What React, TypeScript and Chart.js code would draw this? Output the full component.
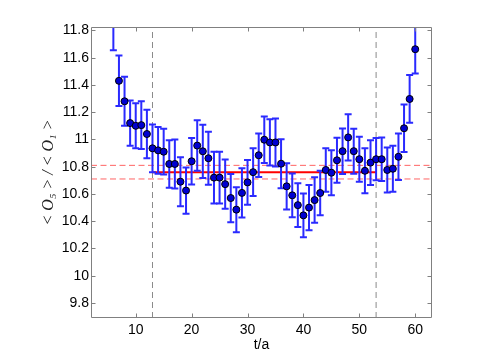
import React, { useEffect, useRef } from "react";
import { Chart, registerables } from "chart.js";

Chart.register(...registerables);

// time slices t/a
const T = [6, 7, 8, 9, 10, 11, 12, 13, 14, 15, 16, 17, 18, 19, 20, 21, 22, 23, 24, 25, 26, 27, 28, 29, 30, 31, 32, 33,
  34, 35, 36, 37, 38, 39, 40, 41, 42, 43, 44, 45, 46, 47, 48, 49, 50, 51, 52, 53, 54, 55, 56, 57, 58, 59, 60];
// <O5>/<O1>
const RATIO = [11.88, 11.43, 11.28, 11.12, 11.10, 11.105, 11.04, 10.935, 10.92, 10.91, 10.82, 10.82, 10.69, 10.625,
  10.84, 10.955, 10.913, 10.862, 10.72, 10.72, 10.672, 10.57, 10.485, 10.608, 10.685, 10.76, 10.884, 10.998,
  10.978, 10.978, 10.822, 10.656, 10.59, 10.518, 10.443, 10.50, 10.555, 10.607, 10.776, 10.756, 10.847, 10.914,
  11.015, 10.914, 10.855, 10.77, 10.83, 10.855, 10.855, 10.776, 10.785, 10.873, 11.082, 11.297, 11.662];
const ERR = [0.225, 0.185, 0.18, 0.166, 0.165, 0.176, 0.178, 0.175, 0.172, 0.168, 0.175, 0.18, 0.18, 0.17,
  0.17, 0.185, 0.195, 0.195, 0.19, 0.19, 0.18, 0.177, 0.165, 0.18, 0.165, 0.175, 0.16, 0.17,
  0.17, 0.176, 0.18, 0.17, 0.16, 0.16, 0.16, 0.166, 0.167, 0.163, 0.16, 0.165, 0.165, 0.167,
  0.17, 0.165, 0.165, 0.165, 0.165, 0.155, 0.16, 0.165, 0.168, 0.17, 0.175, 0.175, 0.178];

const FIT_WINDOW = [13, 53];
const FIT_VALUE = [10.76];
const FIT_BAND = [10.71, 10.81];

const X_RANGE = [2, 63];
const Y_RANGE = [9.69, 11.825];
const X_TICKS = [10, 20, 30, 40, 50, 60];
const Y_TICKS = [9.8, 10, 10.2, 10.4, 10.6, 10.8, 11, 11.2, 11.4, 11.6, 11.8];

const AXIS_FONT = "'Liberation Sans', Arial, Helvetica, sans-serif";

const errorBarPlugin = {
  id: "errorBars",
  beforeDatasetDraw(chart: any, args: any) {
    if (args.index !== 0) return;
    const { ctx, chartArea, scales } = chart;
    const x = scales.x;
    const y = scales.y;
    ctx.save();
    ctx.beginPath();
    ctx.rect(chartArea.left, chartArea.top, chartArea.right - chartArea.left, chartArea.bottom - chartArea.top);
    ctx.clip();
    ctx.strokeStyle = "#2a2aff";
    ctx.lineWidth = 2;
    const cap = 3.5;
    T.forEach((t, i) => {
      const px = x.getPixelForValue(t);
      const lo = y.getPixelForValue(RATIO[i] - ERR[i]);
      const hi = y.getPixelForValue(RATIO[i] + ERR[i]);
      ctx.beginPath();
      ctx.moveTo(px, lo);
      ctx.lineTo(px, hi);
      ctx.moveTo(px - cap, lo);
      ctx.lineTo(px + cap, lo);
      ctx.moveTo(px - cap, hi);
      ctx.lineTo(px + cap, hi);
      ctx.stroke();
    });
    ctx.restore();
  },
};

const framePlugin = {
  id: "frame",
  afterDatasetsDraw(chart: any) {
    const { ctx, chartArea, scales } = chart;
    const { left, right, top, bottom } = chartArea;
    const L = Math.round(left) + 0.5;
    const R = Math.round(right) - 0.5;
    const Tp = Math.round(top) + 0.5;
    const B = Math.round(bottom) - 0.5;
    ctx.save();
    ctx.strokeStyle = "#808080";
    ctx.lineWidth = 1;
    ctx.beginPath();
    ctx.rect(L, Tp, R - L, B - Tp);
    ctx.stroke();
    const tl = 4;
    ctx.beginPath();
    scales.x.ticks.forEach((tk: any) => {
      const px = Math.round(scales.x.getPixelForValue(tk.value)) + 0.5;
      ctx.moveTo(px, B);
      ctx.lineTo(px, B - tl);
      ctx.moveTo(px, Tp);
      ctx.lineTo(px, Tp + tl);
    });
    scales.y.ticks.forEach((tk: any) => {
      const py = Math.round(scales.y.getPixelForValue(tk.value)) + 0.5;
      ctx.moveTo(L, py);
      ctx.lineTo(L + tl, py);
      ctx.moveTo(R, py);
      ctx.lineTo(R - tl, py);
    });
    ctx.stroke();
    ctx.restore();
  },
};

export default function App() {
  const canvasRef = useRef<HTMLCanvasElement | null>(null);

  useEffect(() => {
    const canvas = canvasRef.current;
    if (!canvas) return;
    const points = T.map((t, i) => ({ x: t, y: RATIO[i] }));
    const chart = new Chart(canvas, {
      type: "scatter",
      data: {
        datasets: [
          {
            data: points,
            showLine: false,
            pointRadius: 3.5,
            pointBackgroundColor: "#0000d0",
            pointBorderColor: "#000000",
            pointBorderWidth: 1,
            clip: 0,
          } as any,
          {
            type: "line",
            data: [
              { x: FIT_WINDOW[0], y: FIT_VALUE[0] },
              { x: FIT_WINDOW[1], y: FIT_VALUE[0] },
            ],
            borderColor: "#ff0000",
            borderWidth: 2,
            pointRadius: 0,
            fill: false,
          } as any,
          ...FIT_BAND.map((v) => ({
            type: "line",
            data: [
              { x: X_RANGE[0], y: v },
              { x: X_RANGE[1], y: v },
            ],
            borderColor: "#ff6464",
            borderWidth: 1,
            borderDash: [6, 3.5],
            pointRadius: 0,
            fill: false,
          })) as any,
          ...FIT_WINDOW.map((t) => ({
            type: "line",
            data: [
              { x: t, y: Y_RANGE[0] },
              { x: t, y: Y_RANGE[1] },
            ],
            borderColor: "#8a8a8a",
            borderWidth: 1,
            borderDash: [6, 4],
            pointRadius: 0,
            fill: false,
          })) as any,
        ],
      },
      options: {
        animation: false,
        responsive: false,
        devicePixelRatio: 1,
        layout: { padding: { top: 27, right: 45, left: 0, bottom: 0 } },
        plugins: {
          legend: { display: false },
          tooltip: { enabled: false },
        },
        scales: {
          x: {
            type: "linear",
            min: X_RANGE[0],
            max: X_RANGE[1],
            grid: { display: false, drawTicks: false },
            border: { display: false },
            afterBuildTicks: (s: any) => {
              s.ticks = X_TICKS.map((v) => ({ value: v }));
            },
            afterFit: (s: any) => {
              s.height = 41;
            },
            ticks: {
              padding: 4,
              color: "#000",
              font: { family: AXIS_FONT, size: 14 },
              callback: (v: any) => String(v),
            },
            title: {
              display: true,
              text: "t/a",
              color: "#000",
              font: { family: AXIS_FONT, size: 14 },
              padding: { top: 0, bottom: 5 },
            },
          },
          y: {
            type: "linear",
            min: Y_RANGE[0],
            max: Y_RANGE[1],
            grid: { display: false, drawTicks: false },
            border: { display: false },
            afterBuildTicks: (s: any) => {
              s.ticks = Y_TICKS.map((v) => ({ value: v }));
            },
            afterFit: (s: any) => {
              s.width = 91;
            },
            ticks: {
              padding: 2,
              color: "#000",
              font: { family: AXIS_FONT, size: 14 },
              callback: (v: any) => String(Number(Number(v).toFixed(1))),
            },
            title: {
              display: true,
              text: "< O\u2085 > / < O\u2081 >",
              color: "#222",
              font: { family: "'Liberation Serif', 'DejaVu Serif', serif", size: 16, style: "italic" },
              padding: { top: 39, bottom: 0 },
            },
          },
        },
      },
      plugins: [errorBarPlugin, framePlugin],
    } as any);
    return () => chart.destroy();
  }, []);

  return (
    <div style={{ position: "fixed", left: 0, top: 0, width: 477, height: 359, background: "#fff" }}>
      <canvas ref={canvasRef} width={477} height={359} style={{ display: "block" }} />
    </div>
  );
}
